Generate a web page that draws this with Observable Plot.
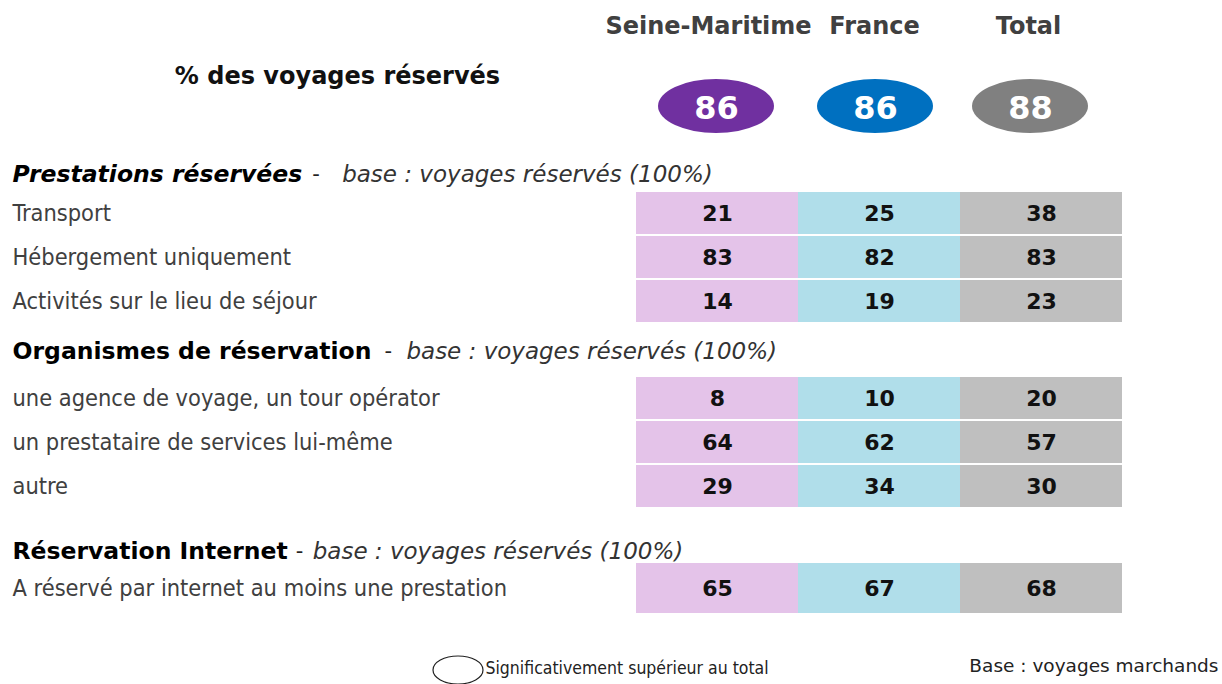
<!DOCTYPE html>
<html><head><meta charset="utf-8">
<script src="https://cdn.jsdelivr.net/npm/d3@7"></script>
<script src="https://cdn.jsdelivr.net/npm/@observablehq/plot@0.6"></script>
<style>body{margin:0;background:#fff}</style>
</head><body><div id="chart"></div>
<script>
// ---------- DATA ----------
const columns = ["Seine-Maritime", "France", "Total"];
const reservedPct = [86, 86, 88];
const mainLabel = "% des voyages réservés";
const sections = ["Prestations réservées", "Organismes de réservation", "Réservation Internet"];
const sectionNote = "base : voyages réservés (100%)";
const sectionRows = [
  ["Transport", "Hébergement uniquement", "Activités sur le lieu de séjour"],
  ["une agence de voyage, un tour opérator", "un prestataire de services lui-même", "autre"],
  ["A réservé par internet au moins une prestation"]
];
const seineValues = [21, 83, 14, 8, 64, 29, 65];
const franceValues = [25, 82, 19, 10, 62, 34, 67];
const totalValues = [38, 83, 23, 20, 57, 30, 68];
const legendText = "Significativement supérieur au total";
const baseText = "Base : voyages marchands";

// ---------- LAYOUT / STYLE ----------
const L = {
  headY: 26, bubbleY: 106, bubbleH: 54, bubbleW: 116, titleX: 337, titleY: 76,
  firstSectionY: 174, headerToRow: [39, 47, 37], rowStep: 44, afterSection: [50, 65, 0],
  cellH: [42, 42, 50], colRange: [636, 1122],
  headDx: [-9, -5, -13], bubbleDx: [-1, -4, -11],
  sectionItalic: [true, false, false], dashGap: [10, 13, 8], noteGap: [40, 35, 25],
  labelX: 12, legendX: 485, legendY: 668, baseX: 1218, baseY: 666,
  legendEll: {cx: 458, cy: 670, rx: 25, ry: 14}
};
const cellFill = ["#E4C3E9", "#B0DEEA", "#BFBFBF"];
const bubbleFill = ["#7030A0", "#0070C0", "#808080"];
const SANS = "DejaVu Sans, Verdana, sans-serif";
const COND = "DejaVu Sans Condensed, DejaVu Sans, sans-serif";

const valuesByCol = [seineValues, franceValues, totalValues];

// build row records
const rows = [];
const sectionHeads = [];
let y = L.firstSectionY;
let k = 0;
sectionRows.forEach((labels, s) => {
  sectionHeads.push({s, title: sections[s], y});
  let ry = y + L.headerToRow[s];
  labels.forEach((label, i) => {
    rows.push({label, y: ry, h: L.cellH[s], idx: k++});
    if (i < labels.length - 1) ry += L.rowStep;
  });
  y = ry + L.afterSection[s];
});
const cells = [];
rows.forEach(r => columns.forEach((c, j) => cells.push({col: c, j, y: r.y, h: r.h, value: valuesByCol[j][r.idx]})));

// text measurement for composite section headers
const ctx = document.createElement("canvas").getContext("2d");
function tw(text, font) { ctx.font = font; return ctx.measureText(text).width; }
const secFontSize = 23.5;
sectionHeads.forEach(h => {
  const font = `${L.sectionItalic[h.s] ? "italic " : ""}bold ${secFontSize}px "DejaVu Sans"`;
  h.w = tw(h.title, font);
  h.xTitle = L.labelX;
  h.xDash = L.labelX + h.w + L.dashGap[h.s];
  h.xNote = L.labelX + h.w + L.noteGap[h.s];
});
// pixel x channel that bypasses the column band scale (text marks still shift by half a band)
const halfBand = (L.colRange[1] - L.colRange[0]) / columns.length / 2;
const px = v => ({value: typeof v === "function" ? (d => v(d) - halfBand) : () => v - halfBand, scale: null});

const marks = [];
// column headers and bubbles
columns.forEach((c, j) => {
  marks.push(Plot.text([c], {x: d => d, y: () => L.headY, text: d => d, dx: L.headDx[j],
    fontFamily: SANS, fontWeight: "bold", fontSize: 24, fill: "#404040"}));
  marks.push(Plot.barY([c], {x: d => d, y1: () => L.bubbleY - L.bubbleH / 2, y2: () => L.bubbleY + L.bubbleH / 2,
    fill: bubbleFill[j], dx: L.bubbleDx[j],
    insetLeft: (2 * halfBand - L.bubbleW) / 2, insetRight: (2 * halfBand - L.bubbleW) / 2, rx: L.bubbleW / 2, ry: L.bubbleH / 2}));
  marks.push(Plot.text([reservedPct[j]], {x: () => c, y: () => L.bubbleY + 2, text: d => String(d), dx: L.bubbleDx[j],
    fontFamily: SANS, fontWeight: "bold", fontSize: 32, fill: "#fff"}));
});
marks.push(Plot.text([mainLabel], {x: px(L.titleX), y: () => L.titleY, text: d => d,
  fontFamily: SANS, fontWeight: "bold", fontSize: 24, fill: "#111", textAnchor: "middle"}));

// cells
marks.push(Plot.barY(cells, {x: "col", y1: d => d.y - d.h / 2, y2: d => d.y + d.h / 2, fill: d => cellFill[d.j]}));
marks.push(Plot.text(cells, {x: "col", y: "y", text: d => String(d.value), fontFamily: SANS, fontWeight: "bold", fontSize: 22, fill: "#111"}));

// row labels
marks.push(Plot.text(rows, {x: px(L.labelX), y: "y", text: "label", textAnchor: "start",
  fontFamily: COND, fontSize: 23.4, fill: "#404040"}));

// section headers (title, dash, note)
const italicHeads = sectionHeads.filter(h => L.sectionItalic[h.s]);
const uprightHeads = sectionHeads.filter(h => !L.sectionItalic[h.s]);
marks.push(Plot.text(italicHeads, {x: px(d => d.xTitle), y: "y", text: "title", textAnchor: "start",
  fontFamily: SANS, fontWeight: "bold", fontStyle: "italic", fontSize: secFontSize, fill: "#000"}));
marks.push(Plot.text(uprightHeads, {x: px(d => d.xTitle), y: "y", text: "title", textAnchor: "start",
  fontFamily: SANS, fontWeight: "bold", fontSize: secFontSize, fill: "#000"}));
marks.push(Plot.text(sectionHeads, {x: px(d => d.xDash), y: "y", text: () => "-", textAnchor: "start",
  fontFamily: SANS, fontSize: 21, fill: "#222"}));
marks.push(Plot.text(sectionHeads, {x: px(d => d.xNote), y: "y", text: () => sectionNote, textAnchor: "start",
  fontFamily: SANS, fontStyle: "italic", fontSize: 23, fill: "#333"}));

// footer
marks.push(Plot.text([legendText], {x: px(L.legendX), y: () => L.legendY, text: d => d, textAnchor: "start",
  fontFamily: COND, fontSize: 17.5, fill: "#222"}));
marks.push(Plot.text([baseText], {x: px(L.baseX), y: () => L.baseY, text: d => d, textAnchor: "end",
  fontFamily: SANS, fontSize: 18.5, fill: "#222"}));

const chart = Plot.plot({
  width: 1222, height: 684, margin: 0,
  x: {type: "band", domain: columns, range: L.colRange, padding: 0, axis: null},
  y: {type: "identity", axis: null},
  marks
});
// legend ellipse outline
d3.select(chart).append("ellipse")
  .attr("cx", L.legendEll.cx).attr("cy", L.legendEll.cy).attr("rx", L.legendEll.rx).attr("ry", L.legendEll.ry)
  .attr("fill", "none").attr("stroke", "#222").attr("stroke-width", 1.2);
document.getElementById("chart").append(chart);
</script>
</body></html>
